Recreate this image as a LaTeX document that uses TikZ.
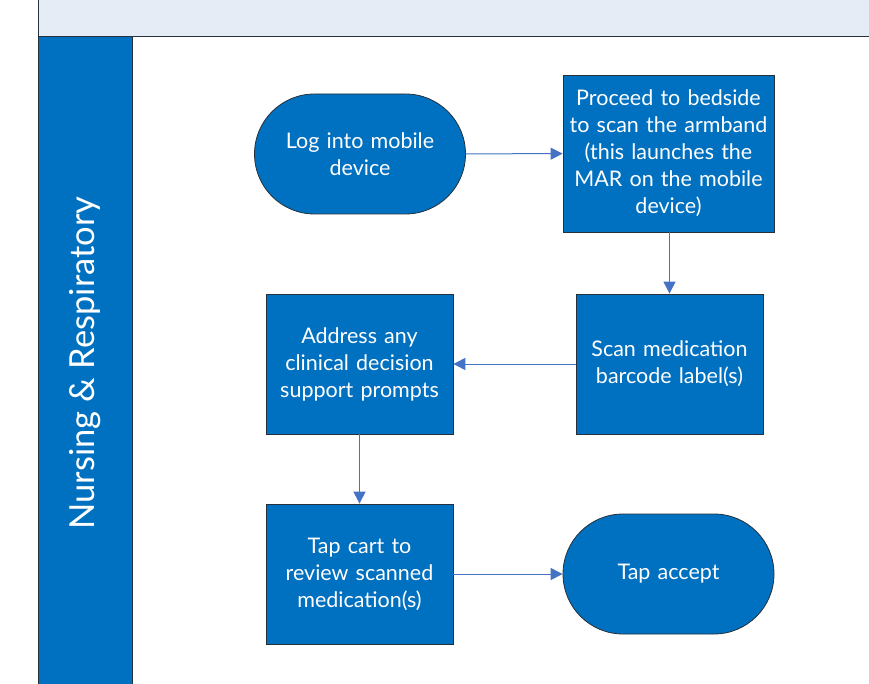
\documentclass[tikz,border=0pt]{standalone}
\usepackage{fontspec}
\setmainfont{Lato}
\usetikzlibrary{arrows.meta}
\definecolor{LaneClr}{HTML}{0070C0}
\definecolor{HeadClr}{HTML}{E6ECF6}
\definecolor{ArrowClr}{HTML}{4472C4}
\definecolor{EdgeClr}{HTML}{26313B}

\tikzset{
  stepbox/.style={draw=EdgeClr,line width=0.8pt,fill=LaneClr,text=white,
    inner sep=0pt,align=center,font=\fontsize{21.5}{27}\selectfont},
  proc/.style={stepbox,rectangle,minimum width=187pt,minimum height=140pt,text width=180pt},
  term/.style={stepbox,rectangle,rounded corners=60pt,minimum width=211pt,minimum height=120pt,text width=195pt},
  flow/.style={ArrowClr,line width=1pt,-{Triangle[length=12pt,width=12pt]}}
}

\begin{document}
\begin{tikzpicture}[x=1pt,y=-1pt]
\useasboundingbox (0,0) rectangle (869,684);
\clip (0,0) rectangle (869,684);

% pool header and lane
\draw[EdgeClr,line width=1pt,fill=HeadClr] (38,-10) rectangle (880,37);
\draw[EdgeClr,line width=1pt,fill=white] (132,37) rectangle (880,700);
\draw[EdgeClr,line width=1pt,fill=LaneClr] (38,37) rectangle (132,700);
\node[text=white,rotate=90,font=\fontsize{34.5}{40}\selectfont] (lane) at (85,363) {Nursing \& Respiratory};

% steps
\node[term] (login) at (360,154) {Log into mobile\\device};
\node[proc,minimum width=211pt,minimum height=157pt,text width=205pt] (bedside) at (668.5,153.5)
  {Proceed to bedside\\to scan the armband\\(this launches the\\MAR on the mobile\\device)};
\node[proc] (scan) at (669.5,364) {Scan medication\\barcode label(s)};
\node[proc] (prompts) at (359.5,364) {Address any\\clinical decision\\support prompts};
\node[proc] (cart) at (359.5,574) {Tap cart to\\review scanned\\medication(s)};
\node[term] (accept) at (668.5,574) {Tap accept};

\draw[flow] (login) -- (bedside);
\draw[flow] (bedside.south -| scan.north) -- (scan);
\draw[flow] (scan) -- (prompts);
\draw[flow] (prompts) -- (cart);
\draw[flow] (cart) -- (accept);

\end{tikzpicture}
\end{document}
